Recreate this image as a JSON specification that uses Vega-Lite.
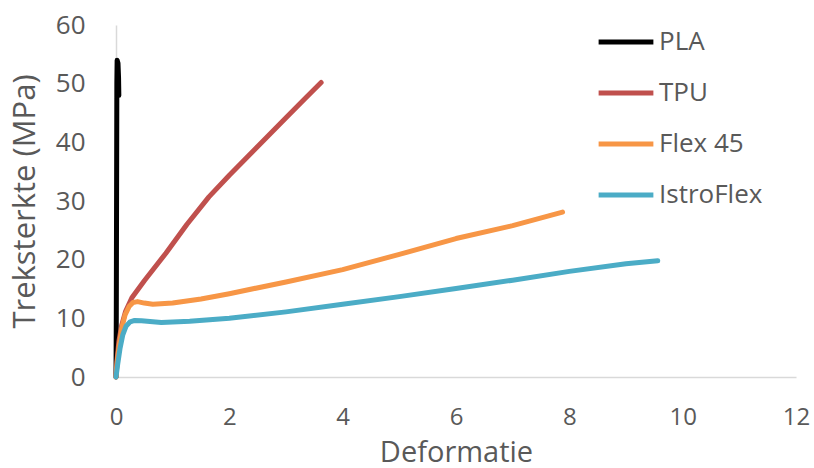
{
  "$schema": "https://vega.github.io/schema/vega-lite/v6.json",
  "width": 680,
  "height": 352,
  "autosize": {"type": "none"},
  "padding": {"left": 116, "top": 25, "right": 18, "bottom": 91},
  "background": "white",
  "config": {
    "view": {"stroke": null},
    "font": "Open Sans"
  },
  "data": {
    "values": [
      {"m": "PLA", "o": 0, "x": 0, "y": 0},
      {"m": "PLA", "o": 1, "x": 0.005, "y": 10},
      {"m": "PLA", "o": 2, "x": 0.01, "y": 30},
      {"m": "PLA", "o": 3, "x": 0.015, "y": 50},
      {"m": "PLA", "o": 4, "x": 0.02, "y": 54},
      {"m": "PLA", "o": 5, "x": 0.035, "y": 53.5},
      {"m": "PLA", "o": 6, "x": 0.045, "y": 51},
      {"m": "PLA", "o": 7, "x": 0.05, "y": 48},
      {"m": "TPU", "o": 0, "x": 0, "y": 0},
      {"m": "TPU", "o": 1, "x": 0.02, "y": 3},
      {"m": "TPU", "o": 2, "x": 0.05, "y": 6},
      {"m": "TPU", "o": 3, "x": 0.1, "y": 8.8},
      {"m": "TPU", "o": 4, "x": 0.17, "y": 11.2},
      {"m": "TPU", "o": 5, "x": 0.28, "y": 13.5},
      {"m": "TPU", "o": 6, "x": 0.5, "y": 16.4},
      {"m": "TPU", "o": 7, "x": 0.88, "y": 21.1},
      {"m": "TPU", "o": 8, "x": 1.25, "y": 26},
      {"m": "TPU", "o": 9, "x": 1.64, "y": 30.7},
      {"m": "TPU", "o": 10, "x": 2.0, "y": 34.4},
      {"m": "TPU", "o": 11, "x": 2.5, "y": 39.3},
      {"m": "TPU", "o": 12, "x": 3.0, "y": 44.2},
      {"m": "TPU", "o": 13, "x": 3.35, "y": 47.6},
      {"m": "TPU", "o": 14, "x": 3.62, "y": 50.2},
      {"m": "Flex 45", "o": 0, "x": 0, "y": 0},
      {"m": "Flex 45", "o": 1, "x": 0.02, "y": 2.5},
      {"m": "Flex 45", "o": 2, "x": 0.05, "y": 5},
      {"m": "Flex 45", "o": 3, "x": 0.1, "y": 8.3},
      {"m": "Flex 45", "o": 4, "x": 0.16, "y": 10.6},
      {"m": "Flex 45", "o": 5, "x": 0.23, "y": 12},
      {"m": "Flex 45", "o": 6, "x": 0.3, "y": 12.7},
      {"m": "Flex 45", "o": 7, "x": 0.38, "y": 12.85},
      {"m": "Flex 45", "o": 8, "x": 0.5, "y": 12.6},
      {"m": "Flex 45", "o": 9, "x": 0.65, "y": 12.4},
      {"m": "Flex 45", "o": 10, "x": 1.0, "y": 12.6},
      {"m": "Flex 45", "o": 11, "x": 1.5, "y": 13.3},
      {"m": "Flex 45", "o": 12, "x": 2.0, "y": 14.2},
      {"m": "Flex 45", "o": 13, "x": 3.0, "y": 16.2},
      {"m": "Flex 45", "o": 14, "x": 4.0, "y": 18.3},
      {"m": "Flex 45", "o": 15, "x": 5.0, "y": 20.9},
      {"m": "Flex 45", "o": 16, "x": 6.0, "y": 23.6},
      {"m": "Flex 45", "o": 17, "x": 7.0, "y": 25.8},
      {"m": "Flex 45", "o": 18, "x": 7.88, "y": 28.1},
      {"m": "IstroFlex", "o": 0, "x": 0, "y": 0},
      {"m": "IstroFlex", "o": 1, "x": 0.03, "y": 2.2},
      {"m": "IstroFlex", "o": 2, "x": 0.07, "y": 4.8},
      {"m": "IstroFlex", "o": 3, "x": 0.12, "y": 7.2},
      {"m": "IstroFlex", "o": 4, "x": 0.18, "y": 8.7},
      {"m": "IstroFlex", "o": 5, "x": 0.25, "y": 9.4},
      {"m": "IstroFlex", "o": 6, "x": 0.33, "y": 9.65},
      {"m": "IstroFlex", "o": 7, "x": 0.45, "y": 9.6},
      {"m": "IstroFlex", "o": 8, "x": 0.8, "y": 9.3},
      {"m": "IstroFlex", "o": 9, "x": 1.3, "y": 9.5},
      {"m": "IstroFlex", "o": 10, "x": 2.0, "y": 10.0},
      {"m": "IstroFlex", "o": 11, "x": 3.0, "y": 11.1},
      {"m": "IstroFlex", "o": 12, "x": 4.0, "y": 12.4},
      {"m": "IstroFlex", "o": 13, "x": 5.0, "y": 13.7},
      {"m": "IstroFlex", "o": 14, "x": 6.0, "y": 15.1},
      {"m": "IstroFlex", "o": 15, "x": 7.0, "y": 16.5},
      {"m": "IstroFlex", "o": 16, "x": 8.0, "y": 18.0},
      {"m": "IstroFlex", "o": 17, "x": 9.0, "y": 19.3},
      {"m": "IstroFlex", "o": 18, "x": 9.56, "y": 19.8}
    ]
  },
  "mark": {"type": "line", "strokeWidth": 5, "interpolate": "linear", "strokeCap": "round", "strokeJoin": "round"},
  "encoding": {
    "x": {
      "field": "x", "type": "quantitative",
      "scale": {"domain": [0, 12], "nice": false},
      "axis": {
        "title": "Deformatie", "values": [0, 2, 4, 6, 8, 10, 12], "labelFlush": false,
        "grid": false, "ticks": false, "domainColor": "#D9D9D9", "domainWidth": 1.5,
        "labelFontSize": 24, "labelColor": "#595959", "labelPadding": 28,
        "titleFontSize": 29, "titleFontWeight": "normal", "titleColor": "#595959", "titlePadding": 9
      }
    },
    "y": {
      "field": "y", "type": "quantitative",
      "scale": {"domain": [0, 60], "nice": false},
      "axis": {
        "title": "Treksterkte (MPa)", "values": [0, 10, 20, 30, 40, 50, 60], "labelFlush": false,
        "grid": false, "ticks": false, "domainColor": "#D9D9D9", "domainWidth": 1.5,
        "labelFontSize": 26, "labelColor": "#595959", "labelPadding": 31,
        "titleFontSize": 31, "titleFontWeight": "normal", "titleColor": "#595959", "titlePadding": 14
      }
    },
    "color": {
      "field": "m", "type": "nominal",
      "scale": {"domain": ["PLA", "TPU", "Flex 45", "IstroFlex"], "range": ["#000000", "#C0504D", "#F79646", "#4BACC6"]},
      "legend": {
        "title": null, "orient": "none", "legendX": 480, "legendY": -13,
        "symbolType": "stroke", "symbolSize": 3000, "symbolStrokeWidth": 5,
        "labelFontSize": 26, "labelColor": "#595959", "labelOffset": 3,
        "rowPadding": 8
      }
    },
    "order": {"field": "o", "type": "quantitative"}
  }
}
